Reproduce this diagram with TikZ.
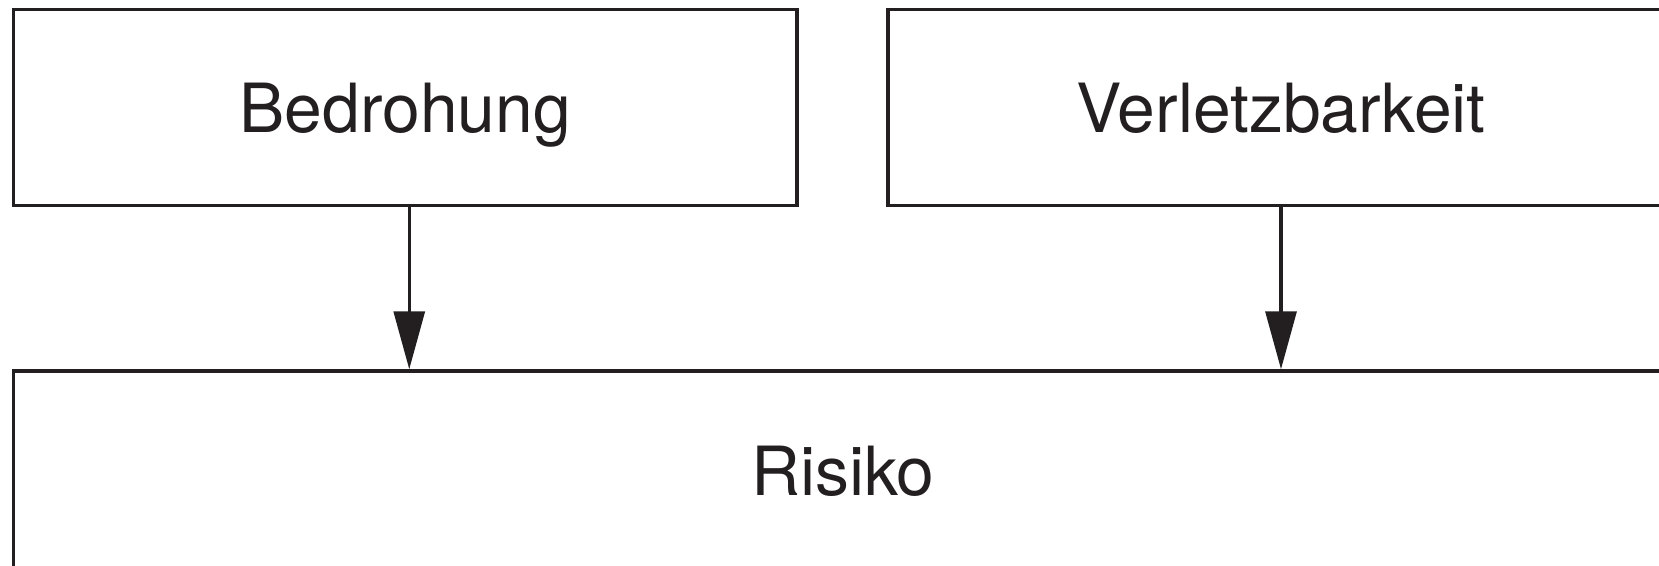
\documentclass[tikz,border=0pt]{standalone}
\usepackage{fontspec}
\setmainfont{TeX Gyre Heros}
\usepackage{xcolor}
\definecolor{ink}{RGB}{35,31,32}
\usepackage{tikz}
\usetikzlibrary{positioning}
\usetikzlibrary{arrows.meta}

\begin{document}
\begin{tikzpicture}[x=0.02cm,y=-0.02cm,
  block/.style={draw=ink,rectangle,line width=2pt,inner sep=0,text=ink,text depth=0pt,font=\fontsize{38.6}{45}\selectfont},
  link/.style={draw=ink,line width=1.8pt,-{Triangle[length=1.16cm,width=0.62cm]}}]
\useasboundingbox (0,0) rectangle (1659,565);
\clip (0,0) rectangle (1659,565);
%upper blocks
\node (threat) at (405.25,107.5) [block,minimum width=15.67cm,minimum height=3.92cm] {Bedrohung};
\node (vuln) at (1281,107.5) [block,minimum width=15.72cm,minimum height=3.92cm] {Verletzbarkeit};
%lower block
\node (risk) at (843,471) [block,minimum width=33.19cm,minimum height=4cm] {Risiko};

%arrows into risk
\draw [link] ([xshift=0.08cm]threat.south) -- ([xshift=0.08cm]threat.south |- risk.north);
\draw [link] (vuln.south) -- (vuln.south |- risk.north);
\end{tikzpicture}
\end{document}
